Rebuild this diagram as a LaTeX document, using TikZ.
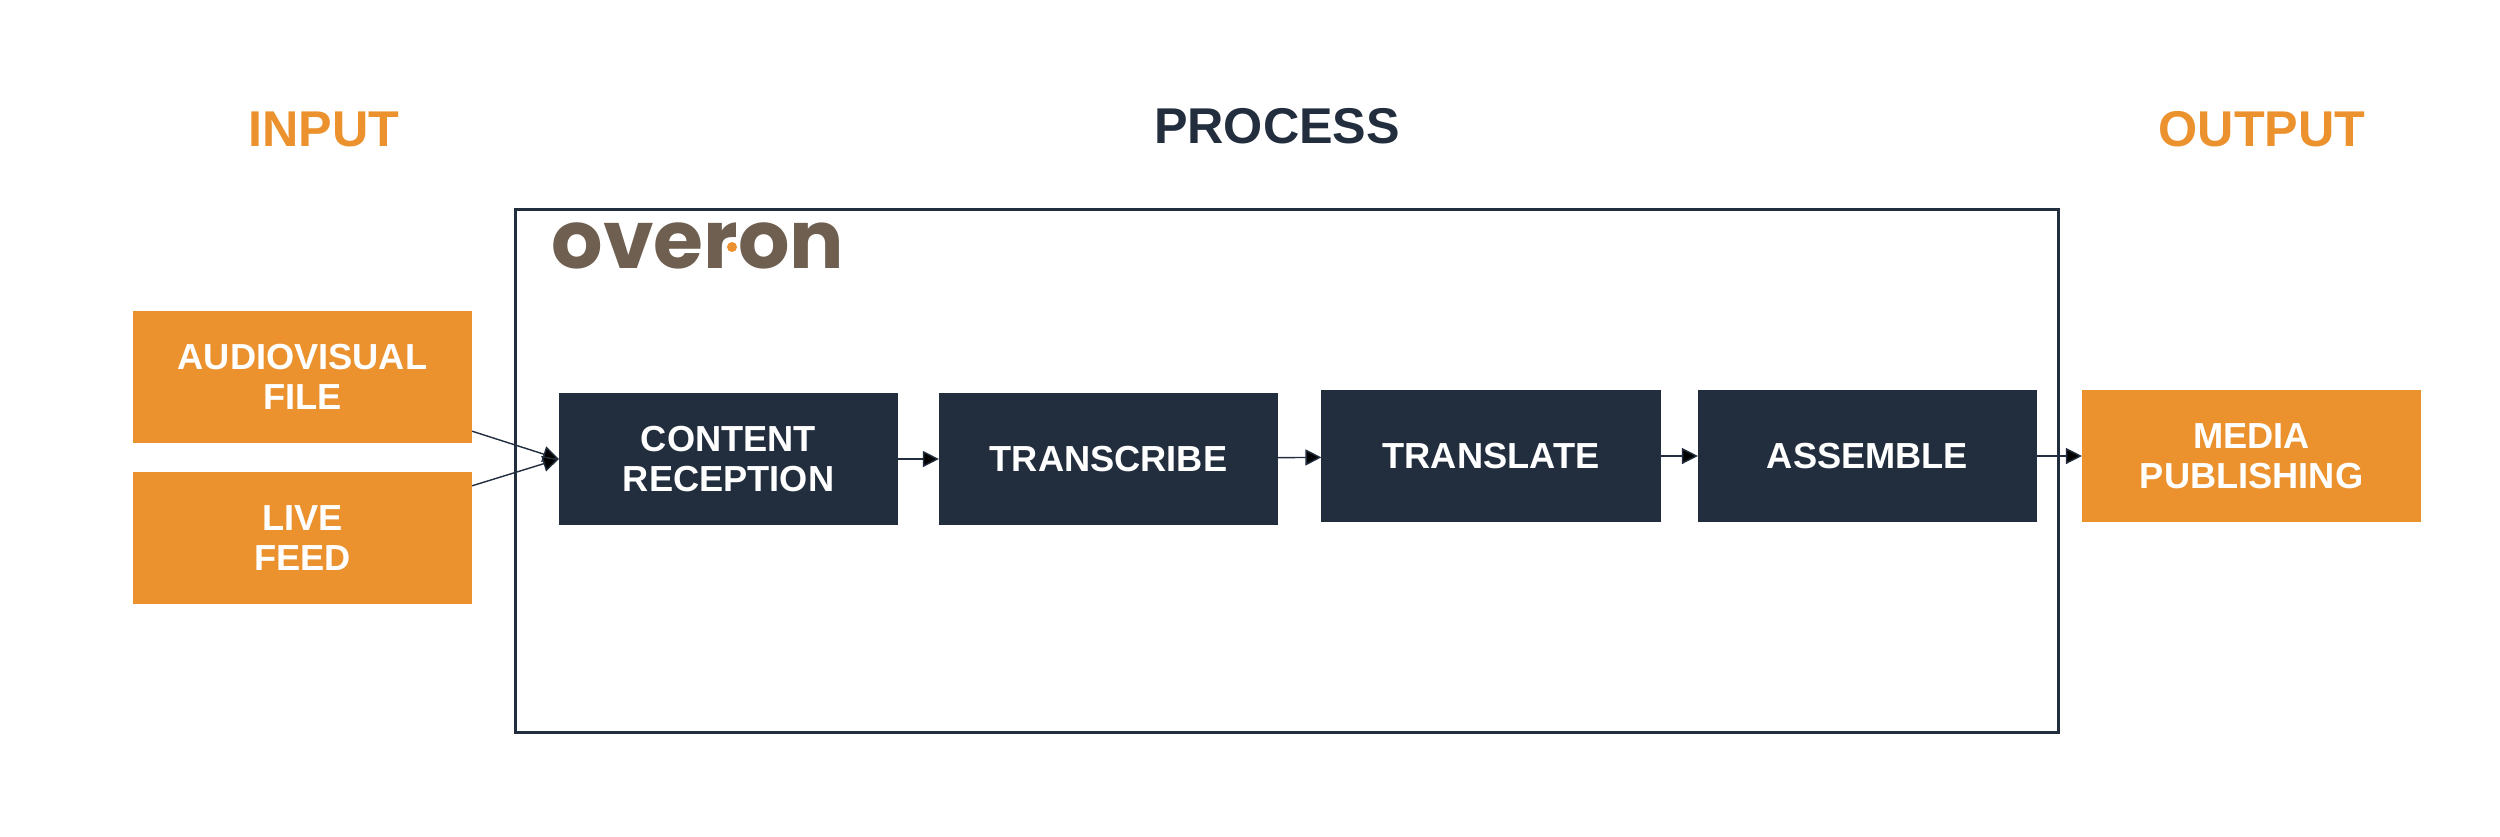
\documentclass[tikz,border=0pt]{standalone}
\usepackage{fontspec}
\setmainfont{Liberation Sans}
\newfontfamily\logofont{Poppins}
\usepackage{xcolor}
\usetikzlibrary{arrows.meta}
\definecolor{ovorange}{HTML}{EB912D}
\definecolor{ovnavy}{HTML}{222E3E}
\definecolor{ovbrown}{HTML}{6E5F50}

\begin{document}
\begin{tikzpicture}[x=0.01cm,y=-0.01cm,
    stagebox/.style={fill=ovnavy,text=white,font=\bfseries\fontsize{10.3}{11.4}\selectfont,align=center,
        minimum width=3.39cm,minimum height=1.32cm,inner sep=0pt,outer sep=0pt},
    mediabox/.style={stagebox,fill=ovorange},
    heading/.style={font=\bfseries\fontsize{14.3}{16}\selectfont,inner sep=0pt},
    link/.style={draw=ovnavy,line width=0.4pt,-{Triangle[length=0.16cm,width=0.16cm]}}]
\useasboundingbox (0,0) rectangle (2500,836);

\node (input) [heading,text=ovorange] at (324,129) {INPUT};
\node (process) [heading,text=ovnavy] at (1277,126) {PROCESS};
\node (output) [heading,text=ovorange] at (2262,129) {OUTPUT};

\node (frame) [draw=ovnavy,line width=0.85pt,minimum width=15.42cm,minimum height=5.22cm,inner sep=0pt] at (1287,471) {};
\node (logo) [font=\logofont\bfseries\fontsize{23}{23}\selectfont,text=ovbrown,inner sep=0pt,anchor=base west] at (551,268) {overon};
\node (dot) [circle,fill=ovorange,minimum size=0.10cm,inner sep=0pt] at (732,247) {};

\node (audio) [mediabox] at (302.5,377) {AUDIOVISUAL\\FILE};
\node (live) [mediabox] at (302.5,538) {LIVE\\FEED};
\node (reception) [stagebox] at (728.5,459) {CONTENT\\RECEPTION};
\node (transcribe) [stagebox] at (1108.5,459) {TRANSCRIBE};
\node (translate) [stagebox] at (1491,456) {TRANSLATE};
\node (assemble) [stagebox] at (1867.5,456) {ASSEMBLE};
\node (publish) [mediabox] at (2251.5,456) {MEDIA\\PUBLISHING};

\path[link]
(audio) edge (reception.west)
(live) edge (reception.west)
(reception) edge (transcribe)
(transcribe) edge (translate)
(translate) edge (assemble)
(assemble) edge (publish);
\end{tikzpicture}
\end{document}
